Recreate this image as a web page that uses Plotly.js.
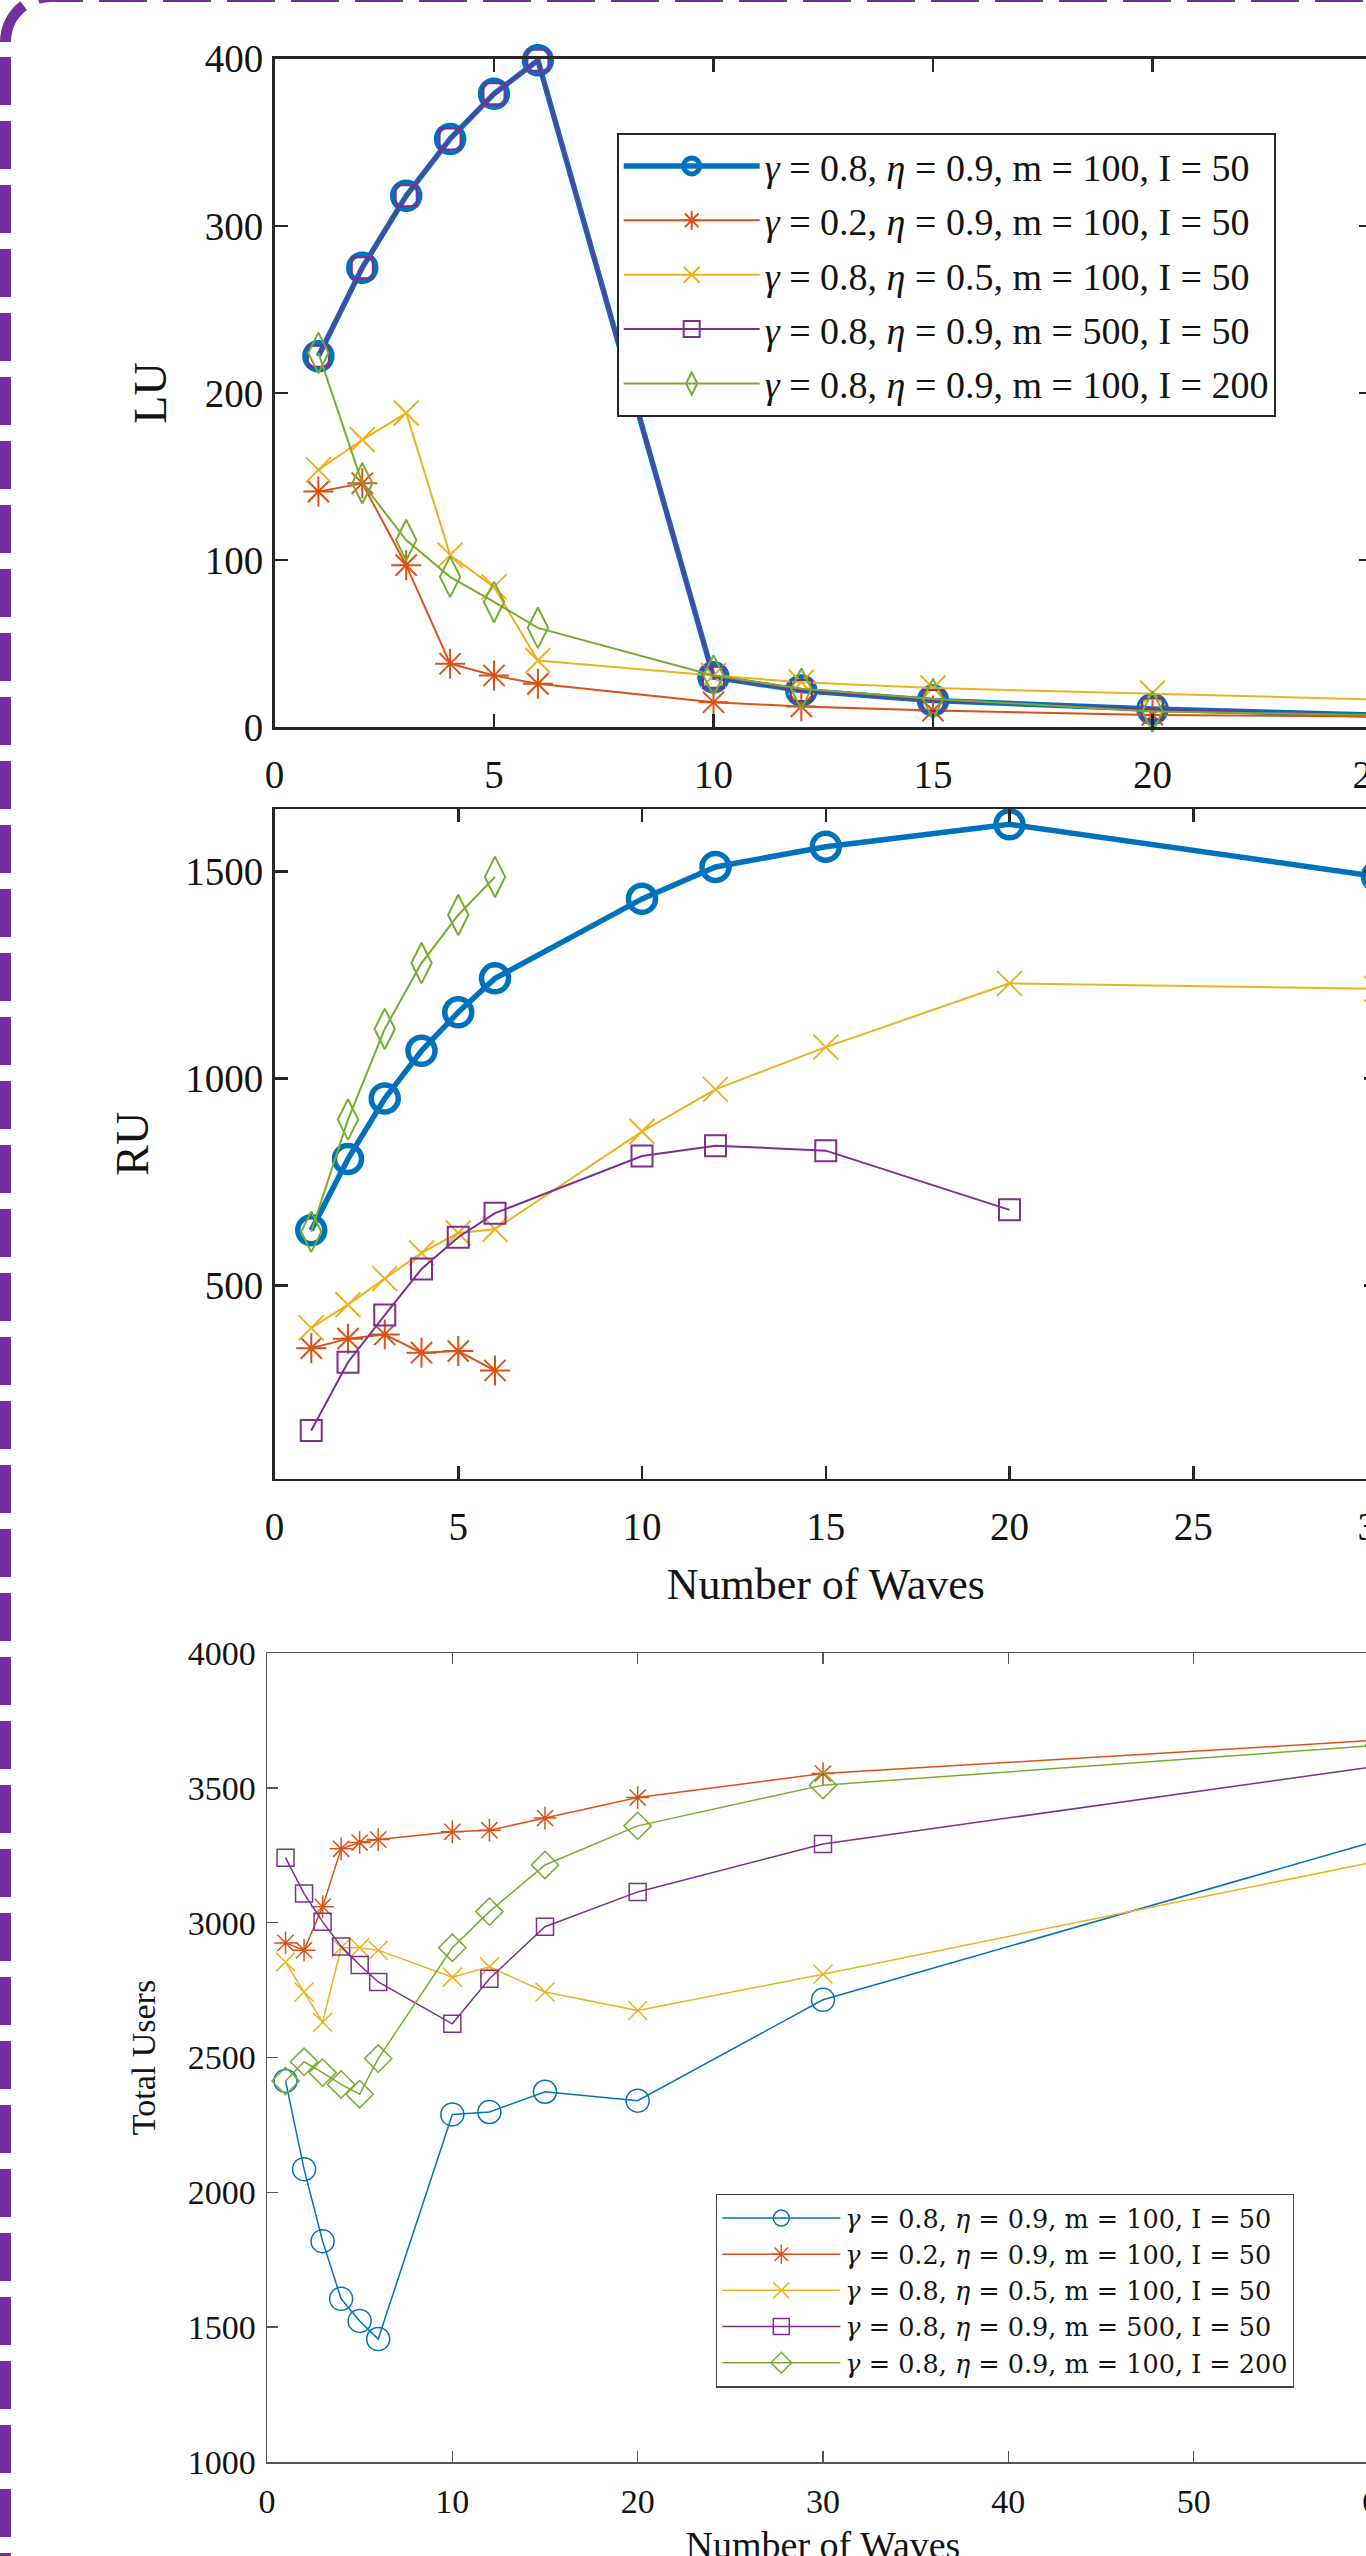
<!DOCTYPE html>
<html><head><meta charset="utf-8">
<script src="https://cdn.plot.ly/plotly-3.0.1.min.js"></script>
<style>
html,body{margin:0;padding:0;overflow:hidden;background:#fff;width:1366px;height:2556px;}
#chart{position:absolute;left:0;top:0;width:1400px;height:2590px;}
#frame{position:absolute;left:0;top:0;width:1366px;height:2556px;pointer-events:none;}
</style></head><body>
<div id="chart"></div>
<svg id="frame" width="1366" height="2556">
 <g fill="none" stroke="#7030A0" stroke-width="11">
  <path d="M5.5,42 L5.5,2600" stroke-dasharray="48 16" stroke-dashoffset="49"/>
  <path d="M5.5,42 A45.5,45.5 0 0 1 51,-3.5" stroke-dasharray="42 16 100"/>
  <path d="M51,-3.5 L1400,-3.5" stroke-dasharray="48 16" stroke-dashoffset="16"/>
 </g>
</svg>
<script>
// ---------- data ----------
const seriesNames = [
  '<i>γ</i> = 0.8, <i>η</i> = 0.9, m = 100, I = 50',
  '<i>γ</i> = 0.2, <i>η</i> = 0.9, m = 100, I = 50',
  '<i>γ</i> = 0.8, <i>η</i> = 0.5, m = 100, I = 50',
  '<i>γ</i> = 0.8, <i>η</i> = 0.9, m = 500, I = 50',
  '<i>γ</i> = 0.8, <i>η</i> = 0.9, m = 100, I = 200'
];
const waves = [1, 2, 3, 4, 5, 6, 10, 12, 15, 20, 30];
const wavesTotal = [1, 2, 3, 4, 5, 6, 10, 12, 15, 20, 30, 60];

// LU (top panel)
const luA = [222, 275, 318, 352, 379, 399, 30, 22, 16, 11, 3.6];
const luB = [141, 146, 97, 38, 31, 26, 15, 12.5, 10, 7.4, 5.5];
const luC = [154, 172, 188, 103, 84, 40, 31, 27, 23.5, 20.5, 13.3];
const luD = [222, 275, 318, 352, 379, 399, 30, 22, 16, 11, 3.6];
const luE = [224, 146, 112, 90, 75, 59.5, 31, 23, 17, 9.5, 5.2];

// RU (middle panel)
const ruA = [634, 806, 952, 1067, 1160, 1242, 1434, 1511, 1560, 1614, 1488];
const ruB = [349, 372, 382, 338, 342, 295];
const ruC = [398, 454, 517, 579, 627, 636, 872, 974, 1076, 1230, 1217];
const ruD = [150, 315, 429, 540, 617, 675, 813, 838, 826, 683];
const ruE = [630, 901, 1120, 1279, 1395, 1487];

// Total users (bottom panel)
const tuA = [2413, 2086, 1819, 1605, 1523, 1456, 2289, 2298, 2373, 2340, 2714, 3306];
const tuB = [2925, 2898, 3059, 3274, 3297, 3308, 3337, 3343, 3388, 3464, 3553, 3677];
const tuC = [2854, 2743, 2631, 2907, 2907, 2898, 2798, 2836, 2743, 2674, 2809, 3229];
const tuD = [3241, 3108, 3003, 2912, 2843, 2780, 2625, 2792, 2985, 3114, 3292, 3581];
const tuE = [2413, 2484, 2444, 2400, 2364, 2496, 2907, 3041, 3214, 3359, 3510, 3658];

const luTicks = [0, 100, 200, 300, 400];
const ruTicks = [500, 1000, 1500];
const tuTicks = [1000, 1500, 2000, 2500, 3000, 3500, 4000];
const xTicksTop = [0, 5, 10, 15, 20, 25];
const xTicksMid = [0, 5, 10, 15, 20, 25, 30];
const xTicksBot = [0, 10, 20, 30, 40, 50, 60];

// ---------- styling ----------
const colors = ['#0072BD', '#D95319', '#EDB120', '#7E2F8E', '#77AC30'];
const F = 'Liberation Serif';
const FL2 = 'DejaVu Serif';
const TXT = '#141414';
const W = 1400, H = 2590;
const px = v => v / W;
const py = v => 1 - v / H;

const symbolsBig = ['circle-open', 'asterisk-open', 'x-thin-open', 'square-open', 'diamond-tall-open'];
const sizesBig = [27, 25, 25, 21, 29];
const symbolsSmall = ['circle-open', 'asterisk-open', 'x-thin-open', 'square-open', 'diamond-open'];
const sizesSmall = [23, 19, 19, 17, 21];

function tr(i, x, y, xa, ya, opts) {
  const thick = (opts.big && i === 0);
  return {
    type: 'scatter', mode: 'lines+markers', x: x, y: y,
    xaxis: xa, yaxis: ya, name: seriesNames[i],
    cliponaxis: false,
    line: {color: colors[i], width: opts.big ? (thick ? 5.5 : 2) : 1.5},
    marker: {
      symbol: opts.big ? symbolsBig[i] : symbolsSmall[i],
      size: opts.big ? sizesBig[i] : sizesSmall[i],
      color: colors[i],
      line: {color: colors[i], width: opts.big ? (thick ? 5.5 : 2) : 1.5}
    },
    showlegend: !!opts.legend,
    legend: opts.legend || 'legend',
    legendgroup: opts.group || undefined
  };
}

const traces = [];
const luAll = [luA, luB, luC, luD, luE];
luAll.forEach((d, i) => traces.push(tr(i, waves.slice(0, d.length), d, 'x', 'y', {big: true, legend: 'legend', group: 'g' + i})));
const ruAll = [ruA, ruB, ruC, ruD, ruE];
ruAll.forEach((d, i) => traces.push(tr(i, waves.slice(0, d.length), d, 'x2', 'y2', {big: true})));
const tuAll = [tuA, tuB, tuC, tuD, tuE];
tuAll.forEach((d, i) => traces.push(tr(i, wavesTotal.slice(0, d.length), d, 'x3', 'y3', {big: false, legend: 'legend2'})));

function axisBase(dark) {
  return {
    showline: true, mirror: 'ticks', ticks: 'inside',
    linecolor: dark ? '#262626' : '#555', linewidth: dark ? 2.5 : 1.5,
    tickcolor: dark ? '#262626' : '#555', tickwidth: dark ? 2.5 : 1.5,
    ticklen: dark ? 13 : 11,
    showgrid: false, zeroline: false, fixedrange: true,
    tickfont: {family: F, size: dark ? 39 : 34, color: TXT}
  };
}

const layout = {
  width: W, height: H,
  margin: {l: 0, r: 0, t: 0, b: 0, pad: 0},
  paper_bgcolor: 'rgba(0,0,0,0)', plot_bgcolor: 'rgba(0,0,0,0)',
  font: {family: F, color: TXT},
  xaxis: Object.assign(axisBase(true), {
    domain: [px(274.5), px(1372)], range: [0, 25], anchor: 'y',
    tickvals: xTicksTop, ticklabelstandoff: 11
  }),
  yaxis: Object.assign(axisBase(true), {
    domain: [py(727.3), py(58.7)], range: [0, 400], anchor: 'x',
    tickvals: luTicks, ticklabelstandoff: 1,
    title: {text: 'LU', font: {family: F, size: 46, color: TXT}, standoff: 24}
  }),
  xaxis2: Object.assign(axisBase(true), {
    domain: [px(274.5), px(1377)], range: [0, 30], anchor: 'y2',
    tickvals: xTicksMid, ticklabelstandoff: 12,
    title: {text: 'Number of Waves', font: {family: F, size: 44, color: TXT}, standoff: 22}
  }),
  yaxis2: Object.assign(axisBase(true), {
    domain: [py(1478.6), py(809)], range: [34, 1651], anchor: 'x2',
    tickvals: ruTicks, ticklabelstandoff: 1,
    title: {text: 'RU', font: {family: F, size: 46, color: TXT}, standoff: 22}
  }),
  xaxis3: Object.assign(axisBase(false), {
    domain: [px(267), px(1379)], range: [0, 60], anchor: 'y3',
    tickvals: xTicksBot, ticklabelstandoff: 9,
    title: {text: 'Number of Waves', font: {family: F, size: 38, color: TXT}, standoff: 12}
  }),
  yaxis3: Object.assign(axisBase(false), {
    domain: [py(2462), py(1653)], range: [1000, 4000], anchor: 'x3',
    tickvals: tuTicks, ticklabelstandoff: 3,
    title: {text: 'Total Users', font: {family: F, size: 34, color: TXT}, standoff: 22}
  }),
  legend: {
    x: px(617), y: py(133), xanchor: 'left', yanchor: 'top',
    bgcolor: '#ffffff', bordercolor: '#262626', borderwidth: 1.7,
    font: {family: F, size: 38, color: TXT},
    itemwidth: 136, tracegroupgap: 2, traceorder: 'grouped'
  },
  legend2: {
    x: px(716), y: py(2290.7), xanchor: 'left', yanchor: 'middle',
    bgcolor: '#ffffff', bordercolor: '#444', borderwidth: 1.3,
    font: {family: FL2, size: 25.5, color: TXT},
    itemwidth: 118, tracegroupgap: 0, traceorder: 'normal'
  },
  showlegend: true
};

Plotly.newPlot('chart', traces, layout, {staticPlot: true, displayModeBar: false});
</script>
</body></html>
